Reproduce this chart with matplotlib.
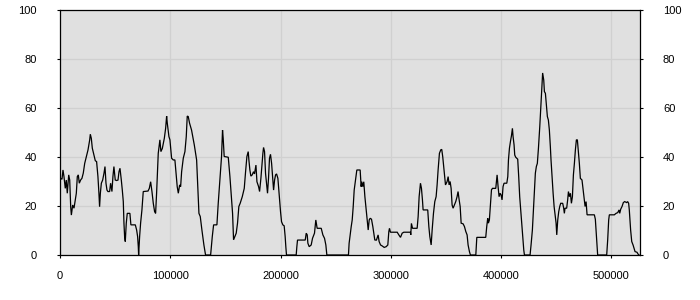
import matplotlib
matplotlib.use("Agg")
import matplotlib.pyplot as plt

positions = [
    600, 1800, 2700, 3600, 4800, 5700, 6600, 7900, 8800, 9700, 10300, 11500, 12700, 13900, 14800,
    15700, 16600, 17500, 18700, 19900, 21100, 22400, 23900, 25400, 26900, 27500, 28400, 29300,
    30800, 32000, 33200, 34400, 35300, 35900, 36600, 37500, 38700, 39900, 40800, 41700, 42600,
    43500, 45000, 45900, 47100, 48000, 48900, 50100, 51400, 52600, 53500, 54400, 55600, 56500,
    57400, 58000, 58600, 59200, 60100, 61000, 63400, 64300, 68300, 69500, 70400, 71000, 71300,
    72200, 73100, 74300, 75500, 79800, 81000, 82200, 83400, 84600, 85800, 86700, 87600, 88200,
    89100, 90600, 91500, 92800, 94600, 95800, 96700, 97300, 98800, 99700, 101200, 102700, 104200,
    105100, 106300, 107300, 108500, 109400, 110300, 111800, 113300, 114500, 115400, 116300,
    117500, 119300, 121800, 123900, 124800, 126000, 127200, 128700, 130500, 132000, 136600,
    138100, 139300, 142300, 143500, 145000, 146500, 147400, 148000, 148900, 152600, 154100,
    155600, 156500, 157400, 158600, 159800, 161000, 162200, 163400, 165300, 167100, 168300,
    169500, 170700, 171300, 172200, 173100, 174300,
    175500, 176400, 177700, 178600, 180100, 181000, 182200, 183100, 184000, 184600, 185500,
    186400, 187300, 188200, 189100, 190000, 190900, 191900, 192800, 193700, 194600, 195500,
    196400, 197600, 198200, 199100, 200000, 200900, 202100, 203300, 204200, 204800, 205400,
    214200, 214800, 215400, 222400, 223300, 224200, 224800, 226000, 227800, 229000, 230800,
    232000, 233200, 236900, 238400, 239900, 241100, 242000, 261600, 262200,
    264100, 265000, 265900, 266800, 268000, 269200, 272200, 273100, 273700, 274600, 275500,
    276500, 277700, 278600, 279500, 280400, 281300, 282500, 283700, 284600, 285500, 287000,
    288500, 289400, 290700, 292200, 294000, 295800, 297300, 298200, 298800, 299700, 305800,
    307300, 308800, 310300, 311800, 317800, 318100, 318700, 319700, 323900, 324800, 325700,
    326900, 327800, 328700, 329300, 333500, 334500, 335400, 336600, 337500, 338700, 339900,
    341100, 342000, 342900, 344100, 345300, 346200, 347100, 348000, 349600,
    351100, 352000, 352900, 353800, 354700, 355600, 356500, 357700, 358900, 360100, 361000,
    362000, 362900, 363800, 365600, 366800, 368000, 369200, 370100, 371300, 372200, 377100,
    378000, 386100, 387000, 387900, 388500, 389400, 390400, 391300, 392200, 395200, 396400,
    397300, 398200, 399100, 400000, 400900, 401800, 402700, 405200, 406100, 406700, 407600,
    408500, 409400, 410300, 410900, 411800, 412400, 413300, 415100, 416000, 416900, 417800,
    418700, 419700, 420600, 421200, 426300, 427200, 428400, 429300, 430200, 431100, 432000,
    432900, 433900, 435100, 436000, 436900, 437700,
    438700, 439300, 440200, 441100, 442000, 442900, 443800, 444700, 445300, 446300, 447200,
    448100, 449000, 449900, 450500, 451400, 452300, 453200, 454100, 455900, 456800, 457400,
    458000, 459500, 460400, 461100, 462000, 462900, 463800, 464700, 465600, 466500, 467400,
    468300, 469200, 470100, 471000, 471900, 473400, 474300, 475300, 476200, 477100, 478000,
    484600, 485500, 486400, 487000, 487600, 495800, 496700, 497600, 498200, 502700, 504300,
    505800, 507000, 507600, 508500, 509700, 510900, 512100, 513900, 514800, 515700, 516300,
    516900, 517500, 518500, 519700, 520600, 521500, 523300, 524200, 525100,
]

values = [
    31.3, 30.9, 34.7, 32.0, 27.2, 30.6, 25.2, 32.7, 30.6, 19.7, 16.3, 20.4, 19.1, 22.5, 25.2,
    32.0, 32.7, 29.3, 30.6, 31.3, 33.4, 37.4, 40.2, 42.9, 46.9, 49.3, 47.6, 43.6,
    40.8, 38.5, 38.1, 32.0, 25.2, 19.7, 25.2, 29.3, 30.6, 33.4, 36.1, 29.3, 26.5,
    25.9, 25.9, 29.3, 25.9, 32.0, 36.1, 30.6, 30.4, 30.6, 34.0, 35.4, 30.6, 26.5,
    21.8, 13.0, 7.5, 5.5, 13.0, 17.0, 17.0, 12.3, 12.3, 10.2, 7.5, 3.4, 0.0,
    7.5, 13.0, 18.4, 25.9, 26.1, 27.2, 29.9, 25.9, 21.1, 17.7, 17.0, 25.2, 32.0,
    41.5, 47.0, 42.2, 43.5, 47.6, 51.7, 56.7, 53.8, 48.3, 47.0, 39.5, 38.8, 38.8,
    34.0, 27.9, 25.2, 28.6, 27.9, 34.0, 39.5, 42.2, 48.3, 56.7, 56.5,
    53.8, 51.0, 44.9, 38.8, 29.3, 17.0, 15.7, 10.2, 4.1, 0.0, 0.0,
    7.5, 12.3, 12.3, 21.1, 30.6, 40.2, 51.0, 47.6, 40.2, 39.9, 32.0,
    22.5, 17.0, 6.2, 7.5, 8.9, 13.0, 19.8, 21.1, 23.8, 27.2, 34.0,
    40.2, 42.2, 38.8, 34.7, 32.2, 32.7,
    34.0, 33.1, 36.7, 29.9, 27.9, 25.9, 31.3, 36.7, 41.5, 43.9, 42.2,
    33.3, 29.3, 25.2, 31.3, 39.5, 41.1, 37.4, 32.0, 26.5, 30.6, 32.7,
    33.1, 31.3, 27.9, 22.5, 17.7, 13.6, 12.3, 11.9, 7.5, 3.4, 0.0,
    0.0, 3.4, 6.1, 6.1, 8.9, 8.2, 4.8, 3.4, 4.1, 6.8, 8.9,
    14.3, 10.9, 10.9, 8.2, 6.8, 4.1, 0.0, 0.0, 4.8,
    11.6, 14.3, 19.7, 26.5, 30.6, 34.7, 34.7, 27.9, 29.9, 27.9, 29.9,
    23.8, 18.4, 14.3, 10.2, 14.3, 15.0, 14.6, 11.6, 8.9, 6.1, 6.1,
    8.2, 5.5, 4.1, 3.7, 3.1, 3.4, 4.1, 9.5, 10.9, 9.3, 9.3,
    8.2, 7.2, 8.9, 9.3, 9.3, 8.2, 12.9, 10.9, 10.9, 15.7, 23.8,
    29.3, 27.2, 22.5, 18.4, 18.4, 11.6, 7.5, 4.1, 10.2, 17.0, 21.8,
    23.8, 28.6, 34.7, 41.5, 42.9, 43.1, 40.1, 36.1, 28.6,
    30.0, 32.0, 28.6, 30.0, 27.2, 20.4, 19.1, 20.4, 21.8, 23.8, 25.9,
    22.5, 19.8, 13.0, 12.7, 11.6, 9.6, 8.2, 4.1, 1.4, 0.0, 0.0,
    7.2, 7.2, 11.6, 15.0, 13.0, 14.3, 21.1, 26.6, 27.2, 27.2, 32.7,
    27.9, 23.8, 25.2, 24.5, 22.5, 27.9, 29.3, 29.3, 32.0, 38.8, 43.6,
    46.3, 48.6, 51.7, 48.3, 44.9, 40.8, 39.9, 39.1, 32.0, 23.8, 18.4,
    13.0, 7.5, 2.0, 0.0, 0.0, 4.1, 10.2, 17.7, 25.9, 33.4, 36.1,
    37.4, 43.6, 52.4, 59.9, 67.4, 74.3,
    71.4, 66.7, 66.0, 61.2, 56.5, 55.1, 51.0, 44.2, 38.8, 31.3, 25.2,
    19.8, 16.4, 13.0, 8.2, 14.3, 17.7, 19.8, 21.1, 21.1, 19.1, 17.0,
    19.1, 19.1, 22.5, 25.9, 23.8, 25.2, 21.1, 23.8, 32.7, 37.4, 42.9,
    47.0, 47.0, 42.2, 37.4, 31.3, 30.6, 27.2, 23.8, 19.8, 21.8, 16.4,
    16.4, 14.6, 8.2, 3.4, 0.0, 0.0, 6.2, 14.3, 16.4, 16.4, 17.0,
    17.3, 18.4, 17.0, 18.7, 19.8, 21.4, 21.8, 21.4, 21.8, 21.1, 18.4,
    14.3, 10.2, 5.5, 4.1, 2.7, 1.4, 1.1, 0.4, 0.0,
]

x_ticks = [0, 100000, 200000, 300000, 400000, 500000]
y_ticks = [0, 20, 40, 60, 80, 100]

plt.rcParams['font.family'] = ['Liberation Sans', 'DejaVu Sans']
plt.rcParams['font.size'] = 8

fig = plt.figure(figsize=(7, 3), dpi=100)
ax = fig.add_axes([60 / 700, 45 / 300, 580 / 700, 245 / 300])
ax.set_facecolor('#e0e0e0')

ax.plot(positions, values, color='black', linewidth=0.9, solid_joinstyle='miter')

ax.set_xlim(0, 526000)
ax.set_ylim(0, 100)
ax.set_xticks(x_ticks)
ax.set_xticklabels([str(t) for t in x_ticks])
ax.set_yticks(y_ticks)
ax.set_yticklabels([str(t) for t in y_ticks])

ax.grid(True, color='#d0d0d0', linewidth=0.9)
ax.set_axisbelow(True)

for s in ax.spines.values():
    s.set_color('black')
    s.set_linewidth(0.9)

ax.tick_params(axis='x', direction='out', length=2.5, width=0.8, pad=9, colors='black')
ax.tick_params(axis='y', direction='out', length=2.5, width=0.8, pad=14, colors='black',
               left=True, right=True, labelleft=True, labelright=True)

fig.savefig('out.png', dpi=100)
